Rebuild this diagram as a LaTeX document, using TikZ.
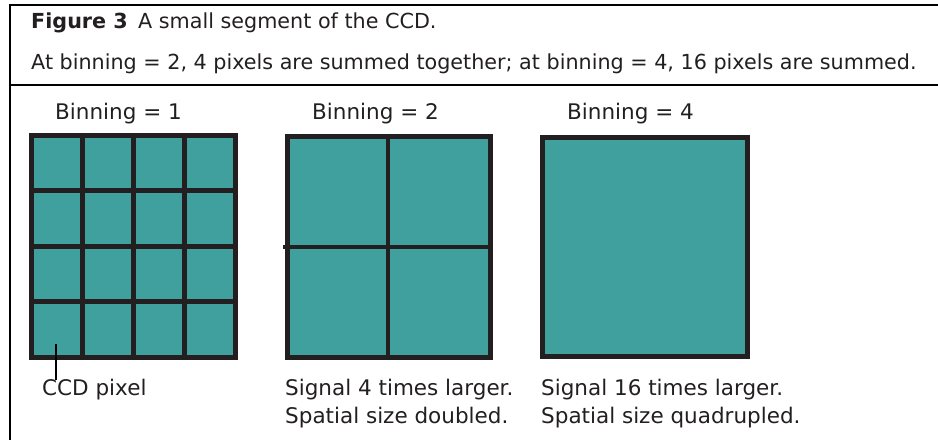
\documentclass[tikz,border=0pt]{standalone}
\usepackage{fontspec}
\setmainfont{DejaVu Sans}
\definecolor{pixteal}{RGB}{64,160,157}
\definecolor{pixline}{RGB}{35,31,32}
\begin{document}
\begin{tikzpicture}[x=1pt,y=-1pt,
  frame/.style={line width=1.3pt, black},
  gridline/.style={line width=5pt, pixline},
  thinline/.style={line width=4pt, pixline},
  leader/.style={line width=2pt, black},
  lbl/.style={anchor=base west, inner sep=0pt, text=pixline,
    font=\fontsize{21.5}{26}\selectfont},
  captext/.style={anchor=base west, inner sep=0pt, text=pixline,
    font=\fontsize{20.7}{24}\selectfont}]
\useasboundingbox (0,0) rectangle (938,440);

% caption frame
\draw[frame] (938,5) -- (10,5) -- (10,440);
\draw[frame] (10,85) -- (938,85);
\node[captext] (title) at (31,28) {\textbf{Figure 3}\enspace A small segment of the CCD.};
\node[captext] (note) at (31,69) {At binning = 2, 4 pixels are summed together; at binning = 4, 16 pixels are summed.};

% binning = 1 : 4 x 4 pixels
\fill[pixteal] (31,135) rectangle (235,357);
\foreach \x in {82,133,184} \draw[gridline] (\x,135) -- (\x,357);
\foreach \y in {190.5,246,301.5} \draw[gridline] (31,\y) -- (235,\y);
\draw[gridline] (31,135) rectangle (235,357);
\node[lbl] (b1) at (55,119) {Binning = 1};

% binning = 2 : 2 x 2 pixels
\fill[pixteal] (287,136) rectangle (490,357);
\draw[thinline] (388,136) -- (388,357);
\draw[thinline] (283,247) -- (490,247);
\draw[gridline] (287,136) rectangle (490,357);
\node[lbl] (b2) at (312,119) {Binning = 2};

% binning = 4 : one pixel
\fill[pixteal] (542,137) rectangle (747,356);
\draw[gridline] (542,137) rectangle (747,356);
\node[lbl] (b4) at (567,119) {Binning = 4};

% notes under the segments
\node[lbl] (pix) at (42,395) {CCD pixel};
\coordinate (pixcell) at (56,344);
\draw[leader] (pixcell) -- ([yshift=-2pt]pixcell |- pix.north);

\node[lbl] (s2a) at (285,395) {Signal 4 times larger.};
\node[lbl] (s2b) at (285,423) {Spatial size doubled.};
\node[lbl] (s4a) at (541,395) {Signal 16 times larger.};
\node[lbl] (s4b) at (541,423) {Spatial size quadrupled.};
\end{tikzpicture}
\end{document}
